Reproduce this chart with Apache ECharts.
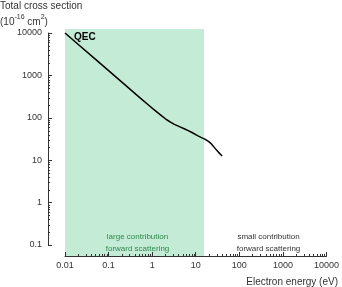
<!DOCTYPE html>
<html>
<head>
<meta charset="utf-8">
<script src="https://cdn.jsdelivr.net/npm/echarts@6/dist/echarts.min.js"></script>
<style>html,body{margin:0;padding:0;background:#fff}#c{width:342px;height:287px}</style>
</head>
<body>
<div id="c"></div>
<script>
// Data
const energy = [0.01, 0.02, 0.05, 0.1, 0.2, 0.5, 0.8, 1, 1.5, 2, 2.5, 3, 4, 5, 6, 7.5, 7.6, 7.75, 7.9, 10, 12, 15, 18, 20, 25, 30, 36];
const qec    = [10000, 5360, 2350, 1259, 675, 296, 195, 160, 114, 90, 78, 70, 61, 55, 50.5, 45, 44.5, 47.5, 44, 38, 34.5, 31, 27.5, 25, 19, 15.3, 12.5];
const xTicks = [0.01, 0.1, 1, 10, 100, 1000, 10000];
const yTicks = [0.1, 1, 10, 100, 1000, 10000];
const regionLarge = [0.01, 15.5];

function minorValues(majors) {
  const out = [];
  for (let i = 0; i < majors.length - 1; i++) {
    for (let k = 2; k <= 9; k++) out.push(majors[i] * k);
  }
  return out;
}
const xMinor = minorValues(xTicks);
const yMinor = minorValues(yTicks);

const FONT = 'Liberation Sans, Arial, sans-serif';
const TXT = '#333';
const AX = '#333';
const Y_OFFSET = 17;

const chart = echarts.init(document.getElementById('c'), null, {renderer: 'canvas'});
const textGraphics = [
  {type: 'text', left: 0, top: 1, style: {text: 'Total cross section', fill: TXT, font: '10px ' + FONT}},
  {type: 'text', left: 0, top: 14, style: {
    text: '{a|(10}{s|-16}{a| cm}{s|2}{a|)}', fill: TXT,
    rich: {a: {fontSize: 10, fontFamily: FONT, lineHeight: 13, verticalAlign: 'bottom', fill: TXT},
           s: {fontSize: 7, fontFamily: FONT, lineHeight: 9, verticalAlign: 'top', fill: TXT}}}},
  {type: 'text', left: 74, top: 32, z: 10, style: {text: 'QEC', fill: '#000', font: 'bold 10px ' + FONT}},
  {type: 'text', x: 137.5, y: 243, z: 10, style: {text: 'large contribution\nforward scattering',
    fill: '#2f8a4c', font: '8px ' + FONT, align: 'center', verticalAlign: 'middle', lineHeight: 12}},
  {type: 'text', x: 268.5, y: 243, z: 10, style: {text: 'small contribution\nforward scattering',
    fill: TXT, font: '8px ' + FONT, align: 'center', verticalAlign: 'middle', lineHeight: 12}},
  {type: 'text', right: 4, top: 277, style: {text: 'Electron energy (eV)', fill: TXT, font: '10px ' + FONT}}
];

const option = {
  animation: false,
  grid: [
    {left: 65, right: 12, top: 33, bottom: 42},
    {left: 65, right: 12, top: 29, bottom: 31}
  ],
  xAxis: [
    {type: 'log', gridIndex: 0, min: 0.01, max: 10000, show: false},
    {type: 'log', gridIndex: 1, min: 0.01, max: 10000, logBase: 10, position: 'bottom', z: 5,
     axisLine: {show: true, onZero: false, lineStyle: {color: AX, width: 1}},
     axisTick: {show: true, inside: true, length: 4, lineStyle: {color: AX, width: 1}},
     axisLabel: {show: true, color: TXT, fontSize: 9, fontFamily: FONT, margin: 5, formatter: v => String(v)},
     splitLine: {show: false}}
  ],
  yAxis: [
    {type: 'log', gridIndex: 0, min: 0.1, max: 10000, logBase: 10, offset: Y_OFFSET, position: 'left', z: 5,
     axisLine: {show: true, onZero: false, lineStyle: {color: AX, width: 1}},
     axisTick: {show: true, inside: true, length: 4, lineStyle: {color: AX, width: 1}},
     axisLabel: {show: true, color: TXT, fontSize: 9, fontFamily: FONT, margin: 6, formatter: v => String(v)},
     splitLine: {show: false}},
    {type: 'value', gridIndex: 1, min: 0, max: 1, show: false}
  ],
  series: [
    {type: 'line', xAxisIndex: 1, yAxisIndex: 1, data: [[0.01, 0.5]], symbol: 'none',
     lineStyle: {opacity: 0}, silent: true, z: 1,
     markArea: {silent: true, itemStyle: {color: '#c4ebd6'},
                data: [[{xAxis: regionLarge[0]}, {xAxis: regionLarge[1]}]]}},
    {type: 'line', xAxisIndex: 0, yAxisIndex: 0, z: 6,
     data: energy.map((e, i) => [e, qec[i]]),
     symbol: 'none', smooth: false,
     lineStyle: {color: '#000', width: 1.5, join: 'round'}}
  ],
  graphic: textGraphics
};
chart.setOption(option);

// minor tick marks placed through the axes' own scales
const tickGraphics = [];
function addXTicks(vals, len) {
  vals.forEach(v => {
    const p = chart.convertToPixel({xAxisIndex: 1, yAxisIndex: 1}, [v, 0]);
    if (!p || !isFinite(p[0])) return;
    const x = Math.round(p[0]) + 0.5, y = Math.round(p[1]);
    tickGraphics.push({type: 'line', z: 100, silent: true,
      shape: {x1: x, y1: y, x2: x, y2: y - len}, style: {stroke: AX, lineWidth: 1}});
  });
}
function addYTicks(vals, len) {
  vals.forEach(v => {
    const p = chart.convertToPixel({xAxisIndex: 0, yAxisIndex: 0}, [0.01, v]);
    if (!p || !isFinite(p[1])) return;
    const x = Math.round(p[0]) - Y_OFFSET, y = Math.round(p[1]) + 0.5;
    tickGraphics.push({type: 'line', z: 100, silent: true,
      shape: {x1: x, y1: y, x2: x + len, y2: y}, style: {stroke: AX, lineWidth: 1}});
  });
}
addXTicks(xMinor, 2);
addYTicks(yMinor, 2);
chart.setOption({graphic: textGraphics.concat(tickGraphics)}, {replaceMerge: ['graphic']});
</script>
</body>
</html>
